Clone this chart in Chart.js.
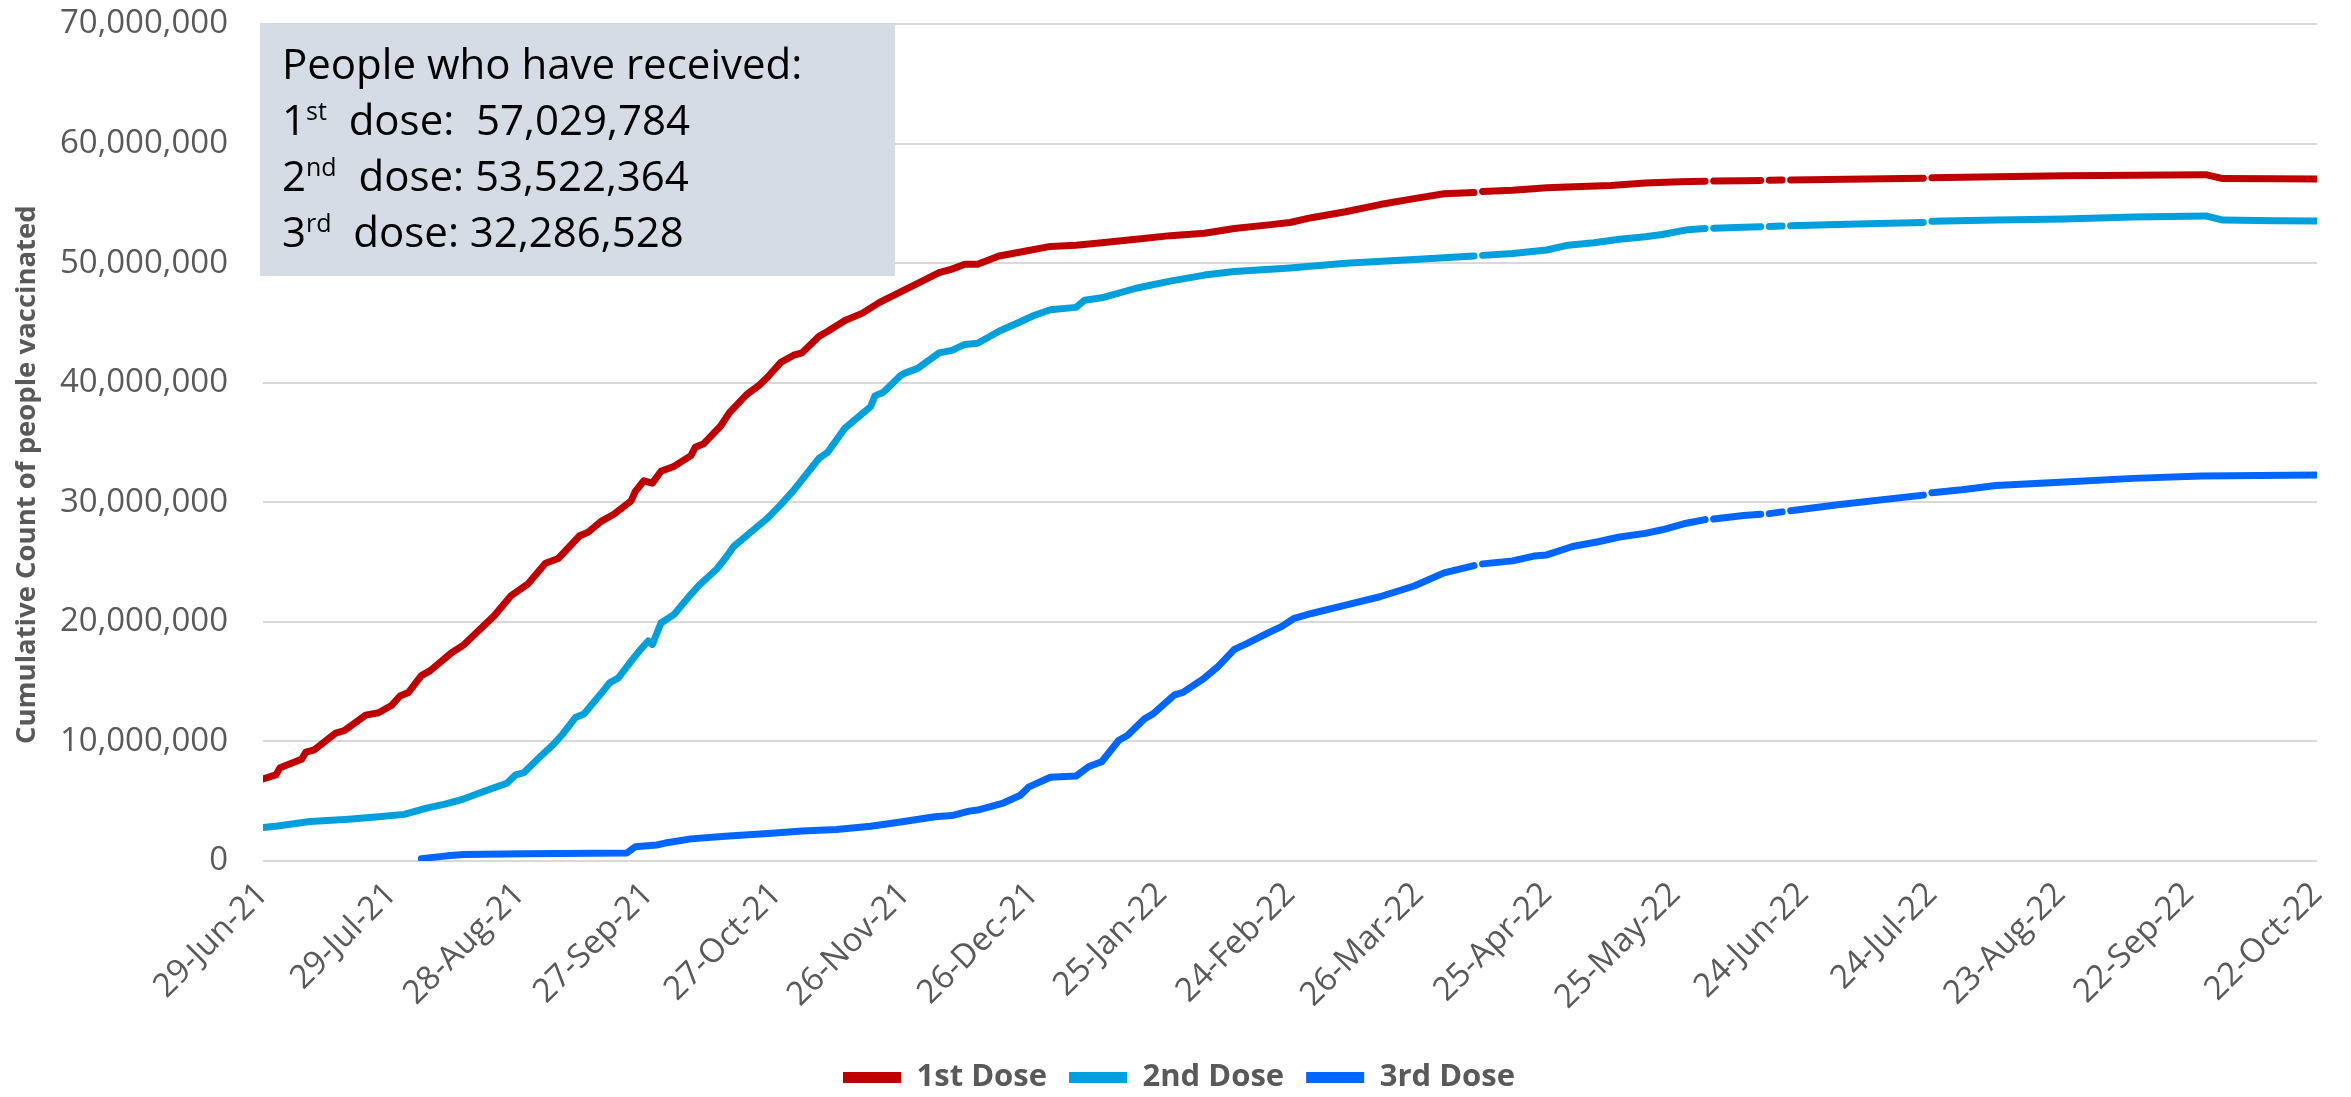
<!DOCTYPE html>
<html>
<head>
<meta charset="utf-8">
<script src="https://cdn.jsdelivr.net/npm/chart.js@4.4.1/dist/chart.umd.min.js"></script>
<style>
  body { margin: 0; background: #fff; }
  #wrap { width: 2351px; height: 1097px; }
</style>
</head>
<body>
<div id="wrap"><canvas id="dose-chart" width="2351" height="1097"></canvas></div>
<script>
// x axis: days since 29-Jun-21, one tick label every 30 days
const tickLabels = ['29-Jun-21', '29-Jul-21', '28-Aug-21', '27-Sep-21', '27-Oct-21', '26-Nov-21',
    '26-Dec-21', '25-Jan-22', '24-Feb-22', '26-Mar-22', '25-Apr-22', '25-May-22', '24-Jun-22',
    '24-Jul-22', '23-Aug-22', '22-Sep-22', '22-Oct-22'];
const tickStep = 30;

const seriesNames = ['1st Dose', '2nd Dose', '3rd Dose'];

// values in millions, null = missing day (line break)
const dose1Days = [0, 3, 4, 9, 10, 12, 17, 19, 24, 27, 30, 32, 34, 37, 39, 44, 47, 49, 54, 58,
    62, 66, 69, 74, 76, 79, 82, 86, 87, 89, 91, 93, 96, 100, 101, 103, 107, 109, 113, 116,
    118, 121, 124, 126, 130, 132, 136, 140, 144, 149, 153, 158, 161, 164, 167, 172, 178, 184, 190, 196,
    204, 212, 220, 227, 235, 240, 245, 253, 261, 269, 276, 283, 284, 285, 292, 300, 308, 315, 323, 331,
    337, 338, 339, 346, 350, 351, 352, 355, 356, 357, 370, 388, 389, 390, 405, 421, 437, 454, 458, 470, 480];
const dose1Values = [6.87, 7.2, 7.8, 8.5, 9.1, 9.3, 10.7, 10.9, 12.2, 12.4, 13.0, 13.8, 14.1, 15.5, 15.9, 17.4, 18.1, 18.8, 20.5, 22.2,
    23.2, 24.9, 25.3, 27.2, 27.5, 28.4, 29.0, 30.1, 30.9, 31.8, 31.6, 32.6, 33.0, 33.9, 34.6, 34.9, 36.4, 37.5, 39.0, 39.8,
    40.5, 41.7, 42.3, 42.5, 43.9, 44.3, 45.2, 45.8, 46.7, 47.6, 48.3, 49.2, 49.5, 49.9, 49.9, 50.6, 51.0, 51.4, 51.5, 51.7,
    52.0, 52.3, 52.5, 52.9, 53.2, 53.4, 53.8, 54.3, 54.9, 55.4, 55.8, 55.9, null, 56.0, 56.1, 56.3, 56.4, 56.5, 56.7, 56.8,
    56.85, null, 56.87, 56.9, 56.92, null, 56.93, 56.95, null, 56.96, 57.02, 57.1, null, 57.15, 57.22, 57.3, 57.35, 57.4, 57.07, 57.05, 57.03];

const dose2Days = [0, 3, 11, 20, 27, 33, 38, 43, 47, 53, 57, 59, 61, 65, 68, 70, 73, 75, 79, 81,
    83, 86, 88, 90, 91, 93, 96, 100, 102, 106, 108, 110, 114, 118, 121, 124, 130, 132, 136, 138,
    142, 143, 145, 149, 150, 153, 158, 161, 164, 167, 172, 177, 180, 184, 190, 192, 196, 204, 212, 220,
    227, 240, 253, 269, 283, 284, 285, 292, 300, 305, 311, 317, 323, 327, 333, 337, 338, 339, 346, 350,
    351, 352, 355, 356, 357, 370, 388, 389, 390, 405, 421, 437, 454, 458, 470, 480];
const dose2Values = [2.8, 2.9, 3.3, 3.5, 3.7, 3.9, 4.4, 4.8, 5.2, 6.0, 6.5, 7.2, 7.4, 8.8, 9.8, 10.6, 12.0, 12.3, 14.0, 14.9,
    15.3, 16.7, 17.6, 18.4, 18.1, 19.9, 20.6, 22.3, 23.1, 24.4, 25.3, 26.3, 27.5, 28.7, 29.8, 31.0, 33.7, 34.2, 36.2, 36.8,
    38.0, 38.9, 39.2, 40.6, 40.8, 41.2, 42.5, 42.7, 43.2, 43.3, 44.3, 45.1, 45.6, 46.1, 46.3, 46.9, 47.1, 47.9, 48.5, 49.0,
    49.3, 49.6, 50.0, 50.3, 50.6, null, 50.65, 50.8, 51.1, 51.5, 51.7, 52.0, 52.2, 52.4, 52.8, 52.9, null, 52.92, 53.0, 53.05,
    null, 53.07, 53.1, null, 53.12, 53.25, 53.4, null, 53.5, 53.6, 53.7, 53.85, 53.95, 53.6, 53.55, 53.52];

const dose3Days = [37, 43, 47, 61, 85, 87, 92, 94, 100, 108, 118, 126, 134, 142, 149, 157, 161, 165, 167, 173,
    177, 179, 184, 190, 193, 196, 200, 202, 206, 208, 213, 215, 220, 223, 227, 230, 235, 238, 241, 245,
    253, 261, 269, 276, 283, 284, 285, 292, 297, 300, 306, 312, 317, 323, 327, 332, 337, 338, 339, 346,
    350, 351, 352, 355, 356, 357, 368, 388, 389, 390, 397, 405, 421, 437, 453, 480];
const dose3Values = [0.2, 0.43, 0.55, 0.6, 0.67, 1.19, 1.34, 1.5, 1.85, 2.07, 2.3, 2.5, 2.63, 2.9, 3.26, 3.7, 3.8, 4.17, 4.26, 4.85,
    5.5, 6.2, 7.0, 7.1, 7.9, 8.3, 10.1, 10.5, 11.9, 12.3, 13.9, 14.1, 15.3, 16.2, 17.7, 18.2, 19.1, 19.6, 20.3, 20.7,
    21.4, 22.1, 23.0, 24.1, 24.7, null, 24.85, 25.1, 25.5, 25.6, 26.3, 26.7, 27.1, 27.4, 27.7, 28.2, 28.55, null, 28.6, 28.9,
    29.0, null, 29.05, 29.2, null, 29.3, 29.8, 30.6, null, 30.8, 31.05, 31.4, 31.7, 32.0, 32.2, 32.29];

// totals shown in the box
const boxTitle = 'People who have received:';
const boxOrdinals = ['1', '2', '3'];
const boxSuffixes = ['st', 'nd', 'rd'];
const boxTotals = ['57,029,784', '53,522,364', '32,286,528'];

const colRed = '#C00000';
const colCyan = '#00A0DC';
const colBlue = '#0066FF';
const greyText = '#595959';

function toPoints(days, values) {
    return days.map(function (d, i) {
        return { x: d, y: values[i] === null ? null : values[i] * 1e6 };
    });
}

function lineSet(label, color, days, values) {
    return {
        label: label,
        data: toPoints(days, values),
        borderColor: color,
        backgroundColor: color,
        borderWidth: 7,
        borderCapStyle: 'round',
        borderJoinStyle: 'round',
        pointRadius: 0,
        tension: 0,
        spanGaps: false,
        fill: false
    };
}

const infoBox = {
    id: 'infoBox',
    beforeDatasetsDraw: function (chart) {
        const ctx = chart.ctx;
        const area = chart.chartArea;
        const x0 = area.left - 3;
        const y0 = area.top - 1;
        ctx.save();
        ctx.fillStyle = '#D6DCE5';
        ctx.fillRect(x0, y0, 635, 253);

        ctx.fillStyle = '#000';
        ctx.textBaseline = 'alphabetic';
        ctx.textAlign = 'left';
        const tx = x0 + 22;
        ctx.font = '42px "Open Sans"';
        ctx.fillText(boxTitle, tx, y0 + 56);
        for (let i = 0; i < 3; i++) {
            const by = y0 + 112 + i * 56;
            let cx = tx;
            ctx.font = '42px "Open Sans"';
            ctx.fillText(boxOrdinals[i], cx, by);
            cx += ctx.measureText(boxOrdinals[i]).width;
            ctx.font = '25px "Open Sans"';
            ctx.fillText(boxSuffixes[i], cx, by - 15);
            cx += ctx.measureText(boxSuffixes[i]).width;
            ctx.font = '42px "Open Sans"';
            const rest = (i === 0 ? '  dose:  ' : '  dose: ') + boxTotals[i];
            ctx.fillText(rest, cx, by);
        }
        ctx.restore();
    }
};

// the legend sits centred on the whole picture, not on the padded area
const legendShift = {
    id: 'legendShift',
    afterLayout: function (chart) {
        if (chart.legend) {
            chart.legend.left += 19;
            chart.legend.right += 19;
        }
    }
};

new Chart(document.getElementById('dose-chart'), {
    type: 'line',
    data: {
        datasets: [
            lineSet(seriesNames[0], colRed, dose1Days, dose1Values),
            lineSet(seriesNames[1], colCyan, dose2Days, dose2Values),
            lineSet(seriesNames[2], colBlue, dose3Days, dose3Values)
        ]
    },
    options: {
        responsive: false,
        animation: false,
        layout: {
            padding: { left: 0, right: 31, top: 24, bottom: -6 }
        },
        scales: {
            x: {
                type: 'linear',
                min: 0,
                max: (tickLabels.length - 1) * tickStep,
                grid: { display: false },
                border: { display: false },
                ticks: {
                    stepSize: tickStep,
                    autoSkip: false,
                    maxRotation: 45,
                    minRotation: 45,
                    padding: 6,
                    color: greyText,
                    font: { family: 'Open Sans', size: 33 },
                    callback: function (v) {
                        return tickLabels[Math.round(v / tickStep)];
                    }
                },
                afterFit: function (scale) {
                    scale.height = 179;
                }
            },
            y: {
                min: 0,
                max: 70000000,
                grid: { color: '#D9D9D9', lineWidth: 2, drawTicks: false },
                border: { display: false },
                ticks: {
                    stepSize: 10000000,
                    padding: 35,
                    color: greyText,
                    font: { family: 'Open Sans', size: 33 },
                    callback: function (v) {
                        return v.toLocaleString('en-US');
                    }
                },
                title: {
                    display: true,
                    text: 'Cumulative Count of people vaccinated         ',
                    color: greyText,
                    font: { family: 'Open Sans', size: 27.5, weight: 'bold' },
                    padding: { top: 11, bottom: 0 }
                },
                afterFit: function (scale) {
                    scale.width = 263;
                    scale.paddingTop = 0;
                    scale.paddingBottom = 0;
                }
            }
        },
        plugins: {
            legend: {
                position: 'bottom',
                labels: {
                    boxWidth: 58,
                    boxHeight: 11,
                    padding: 22,
                    color: greyText,
                    font: { family: 'Open Sans', size: 31, weight: 'bold' },
                    generateLabels: function (chart) {
                        return chart.data.datasets.map(function (ds, i) {
                            return {
                                text: ds.label,
                                fillStyle: ds.borderColor,
                                strokeStyle: ds.borderColor,
                                lineWidth: 0,
                                fontColor: greyText,
                                hidden: false,
                                datasetIndex: i
                            };
                        });
                    }
                }
            },
            tooltip: { enabled: false }
        }
    },
    plugins: [infoBox, legendShift]
});
</script>
</body>
</html>
